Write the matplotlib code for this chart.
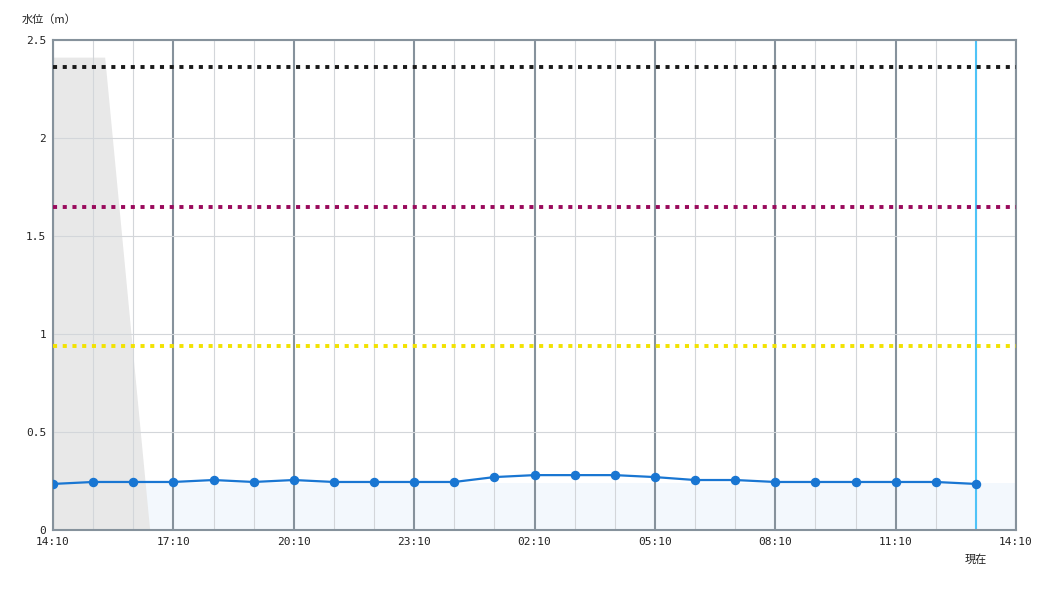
import matplotlib
matplotlib.use('Agg')
import matplotlib.pyplot as plt
from matplotlib.patches import Polygon

# 時刻 (14:10 からの経過時間) と水位
hours = list(range(24))
levels = [0.235, 0.245, 0.245, 0.245, 0.255, 0.245, 0.255, 0.245, 0.245, 0.245,
          0.245, 0.27, 0.28, 0.28, 0.28, 0.27, 0.255, 0.255, 0.245, 0.245,
          0.245, 0.245, 0.245, 0.235]
tick_hours = [0, 3, 6, 9, 12, 15, 18, 21, 24]
tick_labels = ['14:10', '17:10', '20:10', '23:10', '02:10', '05:10', '08:10', '11:10', '14:10']
y_ticks = [0, 0.5, 1, 1.5, 2, 2.5]
y_tick_labels = ['0', '0.5', '1', '1.5', '2', '2.5']

# 基準水位
thresholds = [2.36, 1.65, 0.94]
threshold_colors = ['#1a1a1a', '#990a5c', '#f2e200']

# 左側の灰色領域
shade_x = [0, 1.3, 2.42, 0]
shade_y = [2.41, 2.41, 0, 0]

now_hour = 23
fill_level = 0.24

fig = plt.figure(figsize=(10.5, 6), dpi=100)
ax = fig.add_axes([53 / 1050, 70 / 600, (1016 - 53) / 1050, 490 / 600])

ax.set_xlim(0, 24)
ax.set_ylim(0, 2.5)

# fill / shade (grid の下)
ax.fill_between([0, 24], 0, fill_level, color='#f3f8fd', zorder=0.5, lw=0)
ax.add_patch(Polygon(list(zip(shade_x, shade_y)), closed=True,
                     facecolor='#e8e8e8', edgecolor='none', zorder=0.6))

# grid
for h in range(25):
    major = h % 3 == 0
    ax.axvline(h, color='#86929c' if major else '#d3d6da',
               lw=1.5 if major else 0.8, zorder=1)
for y in y_ticks:
    ax.axhline(y, color='#d3d6da', lw=0.8, zorder=1)

for y, c in zip(thresholds, threshold_colors):
    ax.axhline(y, color=c, lw=2.8, dashes=(1.05, 1.45), dash_capstyle='butt', zorder=3)

ax.axvline(now_hour, color='#4fc3f7', lw=1.5, zorder=2)

ax.plot(hours, levels, color='#1976d2', lw=1.6, marker='o', ms=5.8,
        markerfacecolor='#1976d2', markeredgecolor='#1976d2', zorder=4)

for s in ax.spines.values():
    s.set_color('#86929c')
    s.set_linewidth(1.5)

ax.set_xticks(tick_hours)
ax.set_xticklabels(tick_labels)
ax.set_yticks(y_ticks)
ax.set_yticklabels(y_tick_labels)
ax.tick_params(length=0, pad=5, labelsize=8, labelcolor='#222222')
for lbl in ax.get_xticklabels() + ax.get_yticklabels():
    lbl.set_family('DejaVu Sans Mono')

fig.text(22 / 1050, 1 - 20 / 600, '水位（m）', fontsize=8, color='#222222',
         family=['Noto Sans CJK JP', 'DejaVu Sans'], va='center', ha='left')
ax.text(now_hour, -0.15, '現在', fontsize=8, color='#222222',
        family=['Noto Sans CJK JP', 'DejaVu Sans'], ha='center', va='center',
        transform=ax.transData, clip_on=False)

fig.savefig('out.png', dpi=100, facecolor='white')
